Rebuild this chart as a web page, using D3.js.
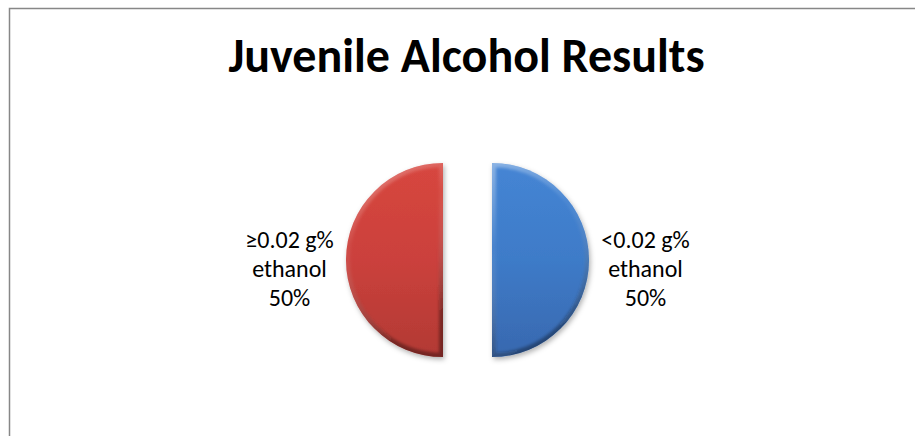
<!DOCTYPE html>
<html>
<head>
<meta charset="utf-8">
<script src="https://cdn.jsdelivr.net/npm/d3@7/dist/d3.min.js"></script>
<style>
  html, body { margin: 0; padding: 0; background: #fff; overflow: hidden; }
  svg { display: block; }
</style>
</head>
<body>
<svg id="chart" width="915" height="436"></svg>
<script>
// ---- data ----
const title = "Juvenile Alcohol Results";
const categories = ["<0.02 g%|ethanol", "≥0.02 g%|ethanol"];
const values = [50, 50];
const percentLabels = ["50%", "50%"];

// ---- style / layout ----
const W = 915, H = 436;
const cx = 467.5, cy = 260, R = 97, explode = 24.5, labelR = 178;
const fontStack = "Carlito, Calibri, Lato, 'Open Sans', sans-serif";
const palette = [
  {top: "#4585D4", mid: "#3E7BC8", bot: "#3868AF"},
  {top: "#D7463F", mid: "#CB413C", bot: "#B23934"}
];

const svg = d3.select("#chart");
const defs = svg.append("defs");

// frame
svg.append("rect")
  .attr("x", 9.5).attr("y", 8.5)
  .attr("width", W).attr("height", H)
  .attr("fill", "#fff").attr("stroke", "#878787").attr("stroke-width", 1.5);

// title
svg.append("text")
  .attr("x", cx - 1).attr("y", 72)
  .attr("text-anchor", "middle")
  .attr("font-family", fontStack)
  .attr("font-weight", "bold")
  .attr("font-size", 48)
  .attr("fill", "#000")
  .text(title);

// filters
const shadow = defs.append("filter").attr("id", "shadow")
  .attr("x", "-20%").attr("y", "-20%").attr("width", "140%").attr("height", "140%");
shadow.append("feDropShadow").attr("dx", 1.5).attr("dy", 2.5)
  .attr("stdDeviation", 2.5).attr("flood-color", "#000").attr("flood-opacity", 0.3);
const blur = defs.append("filter").attr("id", "blur")
  .attr("x", "-20%").attr("y", "-20%").attr("width", "140%").attr("height", "140%");
blur.append("feGaussianBlur").attr("stdDeviation", 1.6);

const pie = d3.pie().sort(null).value(d => d);
const arcs = pie(values);
const arc = d3.arc().innerRadius(0).outerRadius(R);
const lArc = d3.arc().innerRadius(labelR).outerRadius(labelR);

const g = svg.append("g").attr("transform", `translate(${cx},${cy})`);

arcs.forEach((a, i) => {
  const mid = (a.startAngle + a.endAngle) / 2;
  const dx = Math.sin(mid) * explode, dy = -Math.cos(mid) * explode;
  const c = palette[i];

  const grad = defs.append("linearGradient").attr("id", "fill" + i)
    .attr("x1", 0).attr("y1", 0).attr("x2", 0).attr("y2", 1);
  grad.append("stop").attr("offset", "0%").attr("stop-color", c.top);
  grad.append("stop").attr("offset", "50%").attr("stop-color", c.mid);
  grad.append("stop").attr("offset", "100%").attr("stop-color", c.bot);

  const edge = defs.append("linearGradient").attr("id", "edge" + i)
    .attr("x1", 0).attr("y1", 0).attr("x2", 0.3).attr("y2", 1);
  edge.append("stop").attr("offset", "0%").attr("stop-color", "#fff").attr("stop-opacity", 0.38);
  edge.append("stop").attr("offset", "40%").attr("stop-color", "#fff").attr("stop-opacity", 0.05);
  edge.append("stop").attr("offset", "100%").attr("stop-color", "#000").attr("stop-opacity", 0.35);

  defs.append("clipPath").attr("id", "clip" + i)
    .append("path").attr("d", arc(a));

  const sg = g.append("g").attr("transform", `translate(${dx},${dy})`);
  sg.append("path").attr("d", arc(a))
    .attr("fill", `url(#fill${i})`)
    .attr("filter", "url(#shadow)");
  sg.append("g").attr("clip-path", `url(#clip${i})`)
    .append("path").attr("d", arc(a))
    .attr("fill", "none")
    .attr("stroke", `url(#edge${i})`)
    .attr("stroke-width", 8)
    .attr("filter", "url(#blur)");

  // label
  const [lx, ly] = lArc.centroid(a);
  const lines = categories[i].split("|").concat([percentLabels[i]]);
  const t = g.append("text")
    .attr("text-anchor", "middle")
    .attr("font-family", fontStack)
    .attr("font-size", 24)
    .attr("fill", "#000");
  const lh = 29;
  lines.forEach((ln, k) => {
    t.append("tspan").attr("x", lx)
      .attr("y", ly + (k - 1) * lh + 17)
      .text(ln);
  });
});
</script>
</body>
</html>
